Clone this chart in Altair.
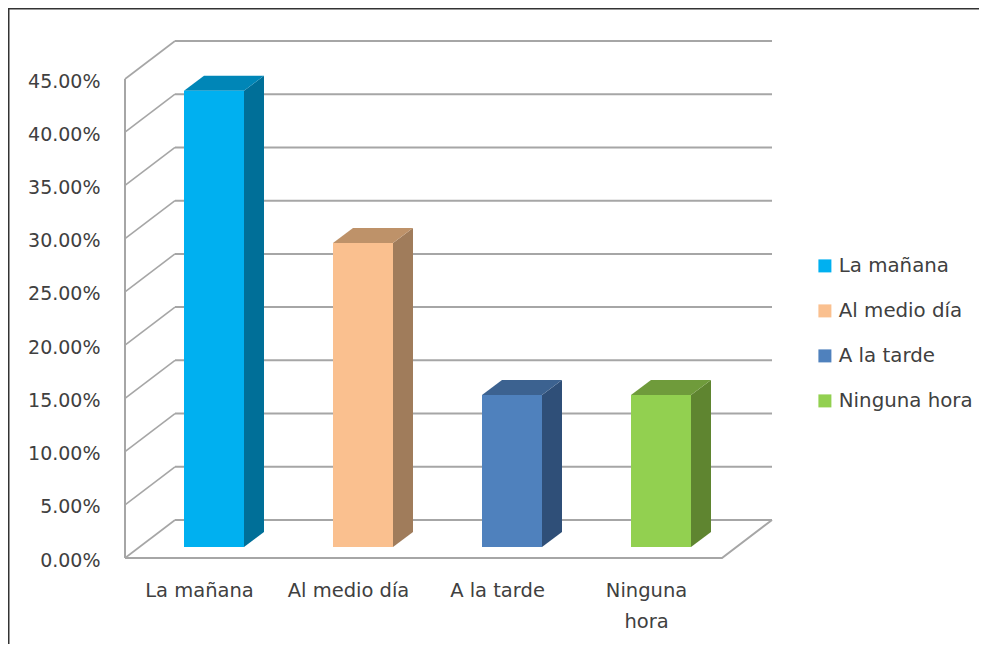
import altair as alt
import pandas as pd

categories = ["La mañana", "Al medio día", "A la tarde", "Ninguna hora"]
values = [0.4286, 0.2857, 0.1429, 0.1429]
front_colors = ["#00B0F0", "#FAC08F", "#4F81BD", "#92D050"]
side_colors = ["#006F98", "#A07C5B", "#2F4F78", "#5F8530"]
top_colors = ["#0086B7", "#BE9269", "#3C6290", "#6F9B3B"]
y_ticks = [i * 0.05 for i in range(10)]

FONT = "DejaVu Sans"
TEXT = "#404040"
W, H = 647, 528
PAD = {"left": 117, "top": 22, "right": 207, "bottom": 86}
Y_PER_PX = 0.45 / 479            # one pixel in value units
DX, DY = 50, 38 * Y_PER_PX       # depth of the room
BAR_W, BAR_DX, BAR_DY = 60, 20, 15 * Y_PER_PX
BASE = 11 * Y_PER_PX
STARTS = [59, 208, 357, 506]

xs = alt.Scale(domain=[0, W], range=[0, W], nice=False, zero=False)
ys = alt.Scale(domain=[0, H * Y_PER_PX], nice=False, zero=False)

label_centers = [s + BAR_W / 2 - 15 for s in STARTS]
label_expr = ("datum.value<150?'La mañana':datum.value<300?'Al medio día':"
              "datum.value<450?'A la tarde':['Ninguna','hora']")
x_axis = alt.Axis(values=label_centers, labelExpr=label_expr, domain=False, ticks=False, grid=False,
                  labelFont=FONT, labelFontSize=19.5, labelColor=TEXT, labelPadding=23,
                  labelLineHeight=31, labelAlign="center", labelOverlap=False, labelFlush=False)
y_axis = alt.Axis(values=y_ticks, format=".2%", domain=False, ticks=False, grid=False,
                  labelFont=FONT, labelFontSize=19, labelColor=TEXT, labelPadding=25,
                  labelOffset=2, labelOverlap=False, labelFlush=False)
X = lambda f="x": alt.X(f"{f}:Q", scale=xs, title=None, axis=x_axis)
Y = lambda f="y": alt.Y(f"{f}:Q", scale=ys, title=None, axis=y_axis)

# room: back gridlines + left wall diagonals + floor
grid_rows, wall_rows = [], []
for i, t in enumerate(y_ticks):
    grid_rows += [{"k": i, "x": DX, "y": t + DY}, {"k": i, "x": W, "y": t + DY}]
    wall_rows += [{"k": i, "x": 0, "y": t}, {"k": i, "x": DX, "y": t + DY}]
GRID = "#A6A6A6"
grid = alt.Chart(pd.DataFrame(grid_rows)).mark_line(color=GRID, strokeWidth=2).encode(
    x=X(), y=Y(), detail="k:N")
wall = alt.Chart(pd.DataFrame(wall_rows)).mark_line(color=GRID, strokeWidth=1.6).encode(
    x=X(), y=Y(), detail="k:N")
left_edge = alt.Chart(pd.DataFrame([{"x": 0, "y": 0}, {"x": 0, "y": y_ticks[-1]}])).mark_line(
    color=GRID, strokeWidth=2).encode(x=X(), y=Y())
floor_front = alt.Chart(pd.DataFrame([{"x": 0, "y": 0}, {"x": W - DX, "y": 0}, {"x": W, "y": DY}])).mark_line(
    color=GRID, strokeWidth=2).encode(x=X(), y=Y())

# bars
front_rows, side_rows, top_rows = [], [], []
for c, v, s in zip(categories, values, STARTS):
    front_rows.append({"cat": c, "x": s, "x2": s + BAR_W, "y": BASE, "y2": BASE + v})
    r = s + BAR_W
    side_rows += [{"cat": c, "x": r, "y": BASE, "y2": BASE + v},
                  {"cat": c, "x": r + BAR_DX, "y": BASE + BAR_DY, "y2": BASE + v + BAR_DY}]
    top_rows += [{"cat": c, "y": BASE + v, "x": s, "x2": s + BAR_W},
                 {"cat": c, "y": BASE + v + BAR_DY, "x": s + BAR_DX, "x2": s + BAR_W + BAR_DX}]

side = alt.Chart(pd.DataFrame(side_rows)).mark_area(orient="vertical").encode(
    x=X(), y=Y(), y2="y2:Q",
    fill=alt.Fill("cat:N", scale=alt.Scale(domain=categories, range=side_colors), legend=None),
    detail="cat:N")
top = alt.Chart(pd.DataFrame(top_rows)).mark_area(orient="horizontal").encode(
    y=Y(), x=X(), x2="x2:Q",
    fill=alt.Fill("cat:N", scale=alt.Scale(domain=categories, range=top_colors), legend=None),
    detail="cat:N")
front = alt.Chart(pd.DataFrame(front_rows)).mark_rect().encode(
    x=X(), x2="x2:Q", y=Y(), y2="y2:Q",
    color=alt.Color("cat:N", sort=categories,
                    scale=alt.Scale(domain=categories, range=front_colors),
                    legend=alt.Legend(orient="none", legendX=690, legendY=226, title=None,
                                      symbolType="square", symbolSize=169, symbolStrokeWidth=0,
                                      labelFont=FONT, labelFontSize=19.8, labelColor=TEXT,
                                      rowPadding=24, labelOffset=4, labelLimit=200)))

# frame (top and left edges only)
frame_top = alt.Chart(pd.DataFrame({"a": [0]})).mark_rule(color="#333333", strokeWidth=2).encode(
    x=alt.value(-PAD["left"]), x2=alt.value(W + PAD["right"]), y=alt.value(-PAD["top"] + 0.5))
frame_left = alt.Chart(pd.DataFrame({"a": [0]})).mark_rule(color="#333333", strokeWidth=2).encode(
    y=alt.value(-PAD["top"]), y2=alt.value(H + PAD["bottom"]), x=alt.value(-PAD["left"] + 0.5))

chart = alt.layer(grid, wall, left_edge, floor_front, side, top, front, frame_top, frame_left).resolve_scale(
    fill="independent", color="independent"
).properties(
    width=W, height=H, padding=PAD, autosize=alt.AutoSizeParams(type="none"), background="white"
).configure_view(stroke=None)

chart.save("out.html", embed_options={"renderer": "svg", "actions": False})
